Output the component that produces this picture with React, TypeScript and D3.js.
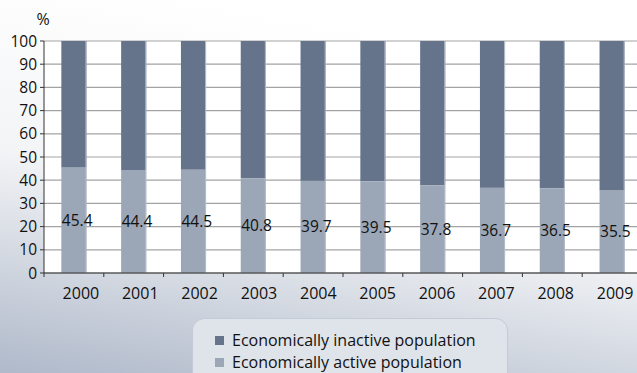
import React from "react";
import * as d3 from "d3";

const years = ["2000", "2001", "2002", "2003", "2004", "2005", "2006", "2007", "2008", "2009"];
const activeValues = [45.4, 44.4, 44.5, 40.8, 39.7, 39.5, 37.8, 36.7, 36.5, 35.5];
const yTicks = [0, 10, 20, 30, 40, 50, 60, 70, 80, 90, 100];
const legendLabels = ["Economically inactive population", "Economically active population"];

const W = 637;
const H = 373;
const FONT = "'Open Sans', 'Noto Sans', sans-serif";
const INACTIVE = "#66748b";
const ACTIVE = "#9ba6b7";

export default function App() {
  const left = 44;
  const right = 642;
  const top = 41;
  const bottom = 273;
  const x = d3.scaleBand<string>().domain(years).range([left, right]).paddingInner(0.58).paddingOuter(0.29);
  const band = d3.scaleBand<string>().domain(years).range([left, right]);
  const y = d3.scaleLinear().domain([0, 100]).range([bottom, top]);
  const bw = x.bandwidth();

  return (
    <svg width={W} height={H} style={{ position: "absolute", left: 0, top: 0 }}>
      <defs>
        <linearGradient id="bg" x1="0.3" y1="0" x2="0" y2="1">
          <stop offset="0" stopColor="#ffffff" />
          <stop offset="0.45" stopColor="#f3f4f6" />
          <stop offset="0.75" stopColor="#ced4de" />
          <stop offset="1" stopColor="#afb9ca" />
        </linearGradient>
      </defs>
      <rect x={0} y={0} width={W} height={H} fill="url(#bg)" />
      <rect x={left} y={top} width={W - left} height={bottom - top} fill="#ffffff" />
      {yTicks.map((t) => (
        <g key={t}>
          <line x1={left} x2={W} y1={y(t)} y2={y(t)} stroke="#a3a3a3" strokeWidth={1.2} />
          <line x1={left - 4} x2={left} y1={y(t)} y2={y(t)} stroke="#333" strokeWidth={1} />
          <text x={left - 7} y={y(t) + 5.5} textAnchor="end" fontFamily={FONT} fontSize={15.5} fill="#111">
            {t}
          </text>
        </g>
      ))}
      {years.map((yr, i) => {
        const bx = x(yr)!;
        const v = activeValues[i];
        return (
          <g key={yr}>
            <rect x={bx} y={y(100)} width={bw} height={y(v) - y(100)} fill={INACTIVE} />
            <rect x={bx} y={y(v)} width={bw} height={y(0) - y(v)} fill={ACTIVE} />
            <line x1={bx + bw - 0.5} x2={bx + bw - 0.5} y1={y(100)} y2={y(0)} stroke="#b4bdcb" strokeWidth={1} />
          </g>
        );
      })}
      {years.map((yr, i) => (
        <text
          key={"l" + yr}
          x={x(yr)! + 0.5}
          y={y(activeValues[i] / 2) + 5.5}
          fontFamily={FONT}
          fontSize={15.5}
          fill="#111"
        >
          {activeValues[i].toFixed(1)}
        </text>
      ))}
      <line x1={left} x2={left} y1={top} y2={bottom} stroke="#333" strokeWidth={1} />
      <line x1={left} x2={W} y1={bottom} y2={bottom} stroke="#333" strokeWidth={1} />
      {years.map((yr, i) => (
        <g key={"t" + yr}>
          <line x1={band(yr)!} x2={band(yr)!} y1={bottom} y2={bottom + 4} stroke="#333" />
          <text
            x={band(yr)! + band.bandwidth() / 2 + 7 - i * 0.45}
            y={bottom + 26}
            textAnchor="middle"
            fontFamily={FONT}
            fontSize={16}
            fill="#111"
          >
            {yr}
          </text>
        </g>
      ))}
      <text x={43} y={25} textAnchor="middle" fontFamily={FONT} fontSize={16} fill="#111">
        %
      </text>
      <rect x={192.5} y={318.5} width={315} height={80} rx={12} fill="#dfe3ea" stroke="#c4cbd6" strokeWidth={1} />
      {legendLabels.map((lab, i) => (
        <g key={lab}>
          <rect x={215} y={336 + i * 22} width={9} height={9} fill={i === 0 ? INACTIVE : ACTIVE} />
          <text x={232} y={345.5 + i * 22} fontFamily={FONT} fontSize={16} fill="#111">
            {lab}
          </text>
        </g>
      ))}
    </svg>
  );
}
